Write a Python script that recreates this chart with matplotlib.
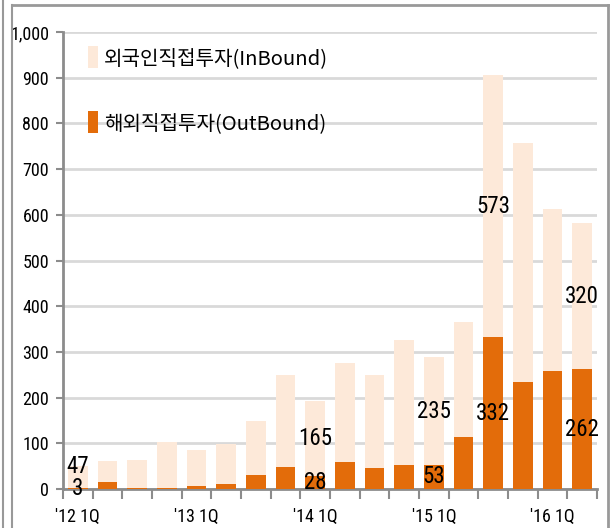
import matplotlib
matplotlib.use("Agg")
import matplotlib.pyplot as plt
from matplotlib import font_manager as fm
from matplotlib.patches import Patch
from matplotlib.lines import Line2D
import numpy as np

# ---- data ----
quarters = ["'12 1Q", "2Q", "3Q", "4Q", "'13 1Q", "2Q", "3Q", "4Q",
            "'14 1Q", "2Q", "3Q", "4Q", "'15 1Q", "2Q", "3Q", "4Q",
            "'16 1Q", "2Q"]
shown_labels = {0: "'12 1Q", 4: "'13 1Q", 8: "'14 1Q", 12: "'15 1Q", 16: "'16 1Q"}
outbound = [3, 16, 3, 3, 7, 12, 31, 48, 28, 59, 47, 53, 53, 113, 332, 234, 258, 262]
inbound = [47, 46, 61, 100, 78, 86, 118, 201, 165, 216, 202, 273, 235, 252, 573, 524, 355, 320]
labeled_in = [0, 8, 12, 14, 17]
labeled_out = [0, 8, 12, 14, 17]
series_names = ["외국인직접투자(InBound)", "해외직접투자(OutBound)"]
yticks = [0, 100, 200, 300, 400, 500, 600, 700, 800, 900, 1000]

# ---- fonts ----
names = {f.name for f in fm.fontManager.ttflist}
narrow = None
for cand in ["Liberation Sans Narrow", "Roboto Condensed", "DejaVu Sans Condensed", "Open Sans Condensed"]:
    if cand in names:
        narrow = cand
        break
if narrow:
    num_font = [narrow, "DejaVu Sans"]
    lab_size, tick_size = 16.5, 13
else:
    num_font = ["Liberation Sans", "DejaVu Sans"]
    lab_size, tick_size = 13, 11
kr_font = ["Noto Sans CJK KR", "DejaVu Sans"]

C_OUT = "#E36C0A"
C_IN = "#FDE9D9"
GRID = "#D9D9D9"
AXC = "#8C8C8C"

fig = plt.figure(figsize=(6.12, 5.28), dpi=100)
ax = fig.add_axes([63 / 612, 39 / 528, (597 - 63) / 612, (489 - 32) / 528])

x = np.arange(len(quarters))
w = 0.66
ax.bar(x, outbound, width=w, color=C_OUT, zorder=3)
ax.bar(x, inbound, width=w, bottom=outbound, color=C_IN, zorder=3)

ax.set_xlim(-0.5, len(quarters) - 0.5)
ax.set_ylim(0, 1000)
ax.set_yticks(yticks)
ax.set_yticklabels([f"{v:,}" for v in yticks], fontfamily=num_font, fontsize=tick_size)
ax.yaxis.grid(True, color=GRID, lw=2, zorder=0)
ax.set_axisbelow(True)

# x ticks at category boundaries, labels at bar centers
ax.set_xticks(np.arange(-0.5, len(quarters) + 0.5, 1))
ax.set_xticklabels([])
ax.set_xticks(list(shown_labels.keys()), minor=True)
ax.set_xticklabels(list(shown_labels.values()), minor=True, fontfamily=num_font, fontsize=tick_size)
ax.tick_params(axis="x", which="major", length=7, width=1.5, color=AXC, direction="out")
ax.tick_params(axis="x", which="minor", length=0, pad=14)
ax.tick_params(axis="y", length=5, width=1.5, color=AXC, pad=5)

for s in ["top", "right"]:
    ax.spines[s].set_visible(False)
for s in ["left", "bottom"]:
    ax.spines[s].set_color(AXC)
    ax.spines[s].set_linewidth(2)

# data labels
for i in labeled_in:
    if i == 0:
        y = outbound[i] + inbound[i]
    else:
        y = outbound[i] + inbound[i] / 2
    ax.text(x[i], y, str(inbound[i]), ha="center", va="center",
            fontfamily=num_font, fontsize=lab_size, zorder=5)
for i in labeled_out:
    ax.text(x[i], outbound[i] / 2, str(outbound[i]), ha="center", va="center",
            fontfamily=num_font, fontsize=lab_size, zorder=5)

handles = [Patch(facecolor=C_IN, edgecolor="none"), Patch(facecolor=C_OUT, edgecolor="none")]
leg = ax.legend(handles, series_names, loc="upper left",
                bbox_to_anchor=(80 / 612, 1 - 38 / 528), bbox_transform=fig.transFigure,
                frameon=False, prop={"family": kr_font, "size": 14.5},
                handlelength=0.5, handleheight=1.3, handletextpad=0.3,
                labelspacing=2.1, borderaxespad=0)

# outer frame lines
fig.add_artist(Line2D([3 / 612, 3 / 612], [0, 1], transform=fig.transFigure, color="#999999", lw=1.5))
fig.add_artist(Line2D([12 / 612, 12 / 612], [0, 1 - 5 / 528], transform=fig.transFigure, color="#999999", lw=1.5))
fig.add_artist(Line2D([12 / 612, 608 / 612], [1 - 5 / 528, 1 - 5 / 528], transform=fig.transFigure, color="#999999", lw=2))
fig.add_artist(Line2D([608 / 612, 608 / 612], [0, 1 - 5 / 528], transform=fig.transFigure, color="#999999", lw=2))

fig.savefig("out.png", dpi=100)
